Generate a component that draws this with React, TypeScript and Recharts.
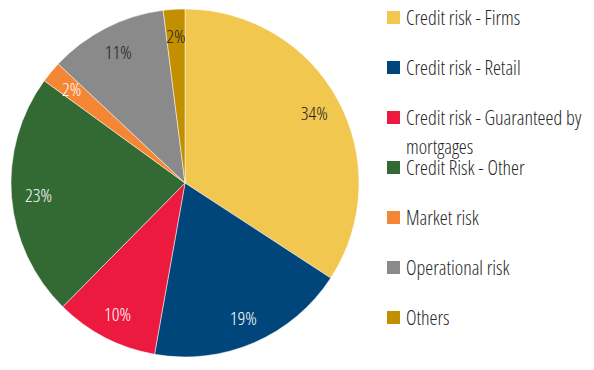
import { PieChart, Pie, Cell, Legend } from "recharts";

const categories = [
  "Credit risk - Firms",
  "Credit risk - Retail",
  "Credit risk - Guaranteed by mortgages",
  "Credit Risk - Other",
  "Market risk",
  "Operational risk",
  "Others",
];
const shares = [34.2, 18.6, 9.6, 22.6, 2.0, 11.0, 2.0];
const colors = ["#F2C750", "#00467A", "#EC1A3F", "#336933", "#F58634", "#8A8A8A", "#C18F00"];
const labelColors = ["#222222", "#ffffff", "#ffffff", "#ffffff", "#ffffff", "#222222", "#222222"];

const data = categories.map((name, i) => ({ name, value: shares[i] }));

const FONT = "'Open Sans', sans-serif";
const RAD = Math.PI / 180;

const renderLabel = (props: any) => {
  const { cx, cy, midAngle, percent, index } = props;
  const r = 147;
  const x = cx + r * Math.cos(-midAngle * RAD);
  const y = cy + r * Math.sin(-midAngle * RAD);
  return (
    <text
      x={x}
      y={y}
      fill={labelColors[index]}
      textAnchor="middle"
      dominantBaseline="central"
      fontFamily={FONT}
      fontSize={19}
      fontWeight={300}
      style={{ fontStretch: "condensed" }}
    >
      {Math.round(percent * 100)}%
    </text>
  );
};

const renderLegend = () => (
  <div style={{ position: "relative", fontFamily: FONT, fontWeight: 300, fontStretch: "condensed" }}>
    {data.map((d, i) => (
      <div
        key={d.name}
        style={{ position: "absolute", top: i * 50, left: 0, height: 50, width: 200 }}
      >
        <span
          style={{
            position: "absolute",
            left: 0,
            top: 8,
            width: 13,
            height: 13,
            background: colors[i],
          }}
        />
        <div
          style={{
            position: "absolute",
            left: 19,
            top: 0,
            width: 185,
            fontSize: 20,
            lineHeight: "29px",
            color: "#262626",
          }}
        >
          {d.name}
        </div>
      </div>
    ))}
  </div>
);

export default function App() {
  return (
    <PieChart width={586} height={362} margin={{ top: 0, right: 0, bottom: 0, left: 0 }}>
      <Pie
        data={data}
        dataKey="value"
        nameKey="name"
        cx={177}
        cy={175}
        outerRadius={174}
        startAngle={90}
        endAngle={-270}
        stroke="#ffffff"
        strokeWidth={0.5}
        label={renderLabel}
        labelLine={false}
        isAnimationActive={false}
      >
        {data.map((d, i) => (
          <Cell key={d.name} fill={colors[i]} />
        ))}
      </Pie>
      <Legend
        content={renderLegend}
        wrapperStyle={{ position: "absolute", left: 379, top: -5, width: 207, height: 360 }}
      />
    </PieChart>
  );
}
